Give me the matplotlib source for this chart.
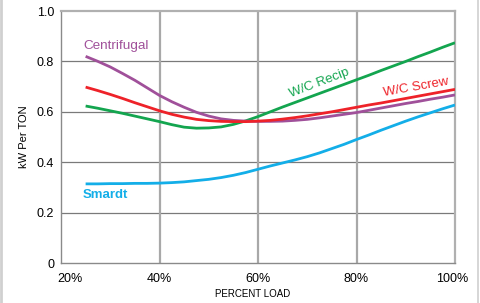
import matplotlib
matplotlib.use("Agg")
import matplotlib.pyplot as plt
import matplotlib.transforms as mtransforms
from matplotlib.lines import Line2D

plt.rcParams['font.family'] = ['Liberation Sans', 'DejaVu Sans']

load = [25, 27.5, 30, 32.5, 35, 37.5, 40, 42.5, 45, 47.5, 50, 52.5, 55, 57.5, 60,
        62.5, 65, 67.5, 70, 72.5, 75, 77.5, 80, 82.5, 85, 87.5, 90, 92.5, 95, 97.5, 100]
centrifugal = [0.820, 0.800, 0.778, 0.752, 0.725, 0.695, 0.665, 0.640, 0.618, 0.598, 0.583,
               0.572, 0.566, 0.563, 0.562, 0.562, 0.563, 0.566, 0.570, 0.576, 0.583, 0.590,
               0.597, 0.606, 0.615, 0.624, 0.633, 0.641, 0.650, 0.658, 0.667]
wc_screw = [0.698, 0.684, 0.669, 0.653, 0.636, 0.620, 0.604, 0.590, 0.579, 0.570, 0.565,
            0.562, 0.561, 0.561, 0.563, 0.566, 0.571, 0.577, 0.584, 0.592, 0.600, 0.609,
            0.618, 0.627, 0.635, 0.644, 0.653, 0.662, 0.671, 0.680, 0.689]
wc_recip = [0.623, 0.614, 0.604, 0.594, 0.583, 0.572, 0.561, 0.549, 0.539, 0.535, 0.536,
            0.540, 0.550, 0.564, 0.581, 0.600, 0.619, 0.637, 0.655, 0.673, 0.691, 0.709,
            0.727, 0.745, 0.764, 0.782, 0.800, 0.819, 0.837, 0.856, 0.874]
smardt = [0.314, 0.314, 0.315, 0.315, 0.316, 0.316, 0.317, 0.319, 0.322, 0.327, 0.332,
          0.339, 0.348, 0.359, 0.372, 0.385, 0.397, 0.409, 0.422, 0.437, 0.454, 0.471,
          0.490, 0.508, 0.527, 0.545, 0.563, 0.580, 0.596, 0.612, 0.627]

xticks = [20, 40, 60, 80, 100]
xticklabels = ["20%", "40%", "60%", "80%", "100%"]
yticks = [0, 0.2, 0.4, 0.6, 0.8, 1.0]
yticklabels = ["0", "0.2", "0.4", "0.6", "0.8", "1.0"]

c_purple = "#a0509a"
c_red = "#ee2229"
c_green = "#13a54f"
c_blue = "#13aee8"

fig = plt.figure(figsize=(4.81, 3.03), dpi=100)
ax = fig.add_axes([61/481, 1 - 263/303, (455-61)/481, (263-11)/303])

ax.set_xlim(20, 100)
ax.set_ylim(0, 1.0)

for y in yticks[1:-1]:
    ax.axhline(y, color="#7a7a7a", lw=0.9, zorder=1)
for x in xticks[1:-1]:
    ax.axvline(x, color="#a8a8a8", lw=1.6, zorder=1)

lw = 2.0
kw = dict(lw=lw, solid_joinstyle="round", solid_capstyle="butt")
ax.plot(load, smardt, color=c_blue, zorder=3, **kw)
ax.plot(load, wc_recip, color=c_green, zorder=3, **kw)
ax.plot(load, centrifugal, color=c_purple, zorder=3, **kw)
ax.plot(load, wc_screw, color=c_red, zorder=4, **kw)

ax.set_xticks(xticks)
ax.set_xticklabels(xticklabels, fontsize=9)
ax.set_yticks(yticks)
ax.set_yticklabels(yticklabels, fontsize=9)
ax.tick_params(axis="x", length=0, pad=7.5)
ax.tick_params(axis="y", length=0, pad=5)

labs = ax.get_xticklabels()
labs[0].set_transform(labs[0].get_transform() + mtransforms.ScaledTranslation(9/100, 0, fig.dpi_scale_trans))
labs[-1].set_transform(labs[-1].get_transform() + mtransforms.ScaledTranslation(-3/100, 0, fig.dpi_scale_trans))

for s in ["left", "bottom"]:
    ax.spines[s].set_color("#8a8a8a")
    ax.spines[s].set_linewidth(1.0)
for s in ["top", "right"]:
    ax.spines[s].set_color("#b0b0b0")
    ax.spines[s].set_linewidth(1.6)

ax.set_xlabel("PERCENT LOAD", fontsize=7, labelpad=5)
ax.xaxis.set_label_coords((253-61)/(455-61), -(294-263)/252)
ax.xaxis.label.set_va("center")
ax.set_ylabel("kW Per TON", fontsize=8, labelpad=6)
ax.yaxis.set_label_coords(-(61-24)/394, 0.5)
ax.yaxis.label.set_va("center")

ax.text(24.5, 0.860, "Centrifugal", color=c_purple, fontsize=9.7, va="center", ha="left")
ax.text(24.5, 0.270, "Smardt", color=c_blue, fontsize=9.5, va="center", ha="left", fontweight="bold")
ax.text(72.5, 0.713, "W/C Recip", color=c_green, fontsize=9.5, va="center", ha="center", rotation=21, rotation_mode="anchor")
ax.text(92.0, 0.697, "W/C Screw", color=c_red, fontsize=9.5, va="center", ha="center", rotation=10, rotation_mode="anchor")

fig.add_artist(Line2D([1/481, 1/481], [0, 1], color="#d0d0d0", lw=2, transform=fig.transFigure))
fig.add_artist(Line2D([478/481, 478/481], [0, 1], color="#d0d0d0", lw=1.2, transform=fig.transFigure))

fig.savefig("out.png", dpi=100)
